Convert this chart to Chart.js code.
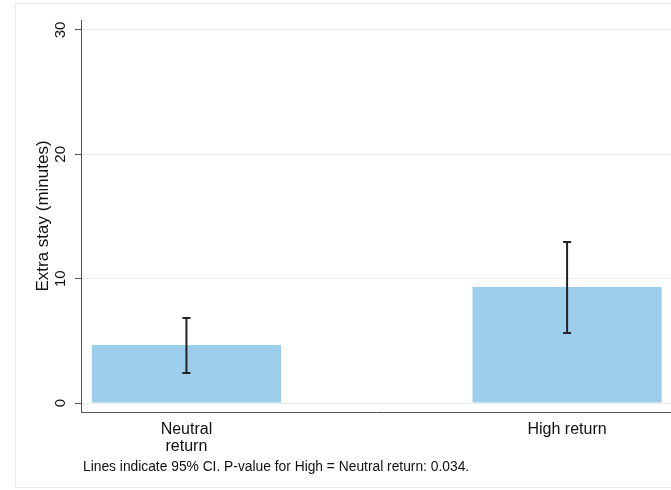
<!DOCTYPE html>
<html>
<head>
<meta charset="utf-8">
<script src="https://cdn.jsdelivr.net/npm/chart.js@4"></script>
<style>
    body { margin: 0; background: #fff; }
    #wrap { position: relative; width: 671px; height: 490px; overflow: hidden; }
    #frame { position: absolute; left: 15px; top: 3px; width: 700px; height: 483px; border: 1px solid #e3ecee; }
    #note { position: absolute; left: 83px; top: 459px; font: 13.8px "Liberation Sans", Arial, sans-serif; color: #111; white-space: nowrap; }
    canvas { position: absolute; left: 0; top: 0; }
</style>
</head>
<body>
<div id="wrap">
    <div id="frame"></div>
    <canvas id="stayChart" width="671" height="490"></canvas>
    <div id="note">Lines indicate 95% CI. P-value for High = Neutral return: 0.034.</div>
</div>
<script>
const xPos = [0, 1];
const xLabels = [["Neutral", "return"], "High return"];
const meanStay = [4.67, 9.33];
const ciLow = [2.42, 5.63];
const ciHigh = [6.84, 12.95];
const yTicks = [0, 10, 20, 30];

const fontFamily = '"Liberation Sans", Arial, sans-serif';

// error bars drawn from the CI arrays through the chart scales
const errorBars = {
    id: "errorBars",
    afterDatasetsDraw(chart) {
        const ctx = chart.ctx;
        const xs = chart.scales.x;
        const ys = chart.scales.y;
        ctx.save();
        ctx.strokeStyle = "#222";
        ctx.lineWidth = 2;
        xPos.forEach((v, i) => {
            const x = xs.getPixelForValue(v);
            const lo = ys.getPixelForValue(ciLow[i]);
            const hi = ys.getPixelForValue(ciHigh[i]);
            ctx.beginPath();
            ctx.moveTo(x, lo);
            ctx.lineTo(x, hi);
            ctx.moveTo(x - 4, lo);
            ctx.lineTo(x + 4, lo);
            ctx.moveTo(x - 4, hi);
            ctx.lineTo(x + 4, hi);
            ctx.stroke();
        });
        ctx.restore();
    },
};

const stayData = {
    datasets: [
        {
            data: xPos.map((x, i) => ({ x: x, y: meanStay[i] })),
            backgroundColor: "#9ccdeb",
            borderWidth: 0,
            barPercentage: 1,
            categoryPercentage: 0.497,
        },
    ],
};

const stayConfig = {
    type: "bar",
    data: stayData,
    options: {
        responsive: false,
        animation: false,
        layout: {
            padding: { left: 0, right: 0, top: 20, bottom: 18 },
        },
        scales: {
            x: {
                type: "linear",
                offset: false,
                min: -0.277,
                max: 1.273,
                afterBuildTicks: (scale) => {
                    scale.ticks = xPos.map((v) => ({ value: v }));
                },
                afterFit: (scale) => {
                    scale.height = 60;
                },
                grid: { display: false, offset: false },
                border: { display: true, color: "#555", width: 1 },
                ticks: {
                    color: "#111",
                    padding: 1,
                    maxRotation: 0,
                    font: { family: fontFamily, size: 16, lineHeight: 1.05 },
                    callback: (value, index) => xLabels[index],
                },
            },
            y: {
                min: -0.72,
                max: 30.8,
                afterBuildTicks: (scale) => {
                    scale.ticks = yTicks.map((v) => ({ value: v }));
                },
                afterFit: (scale) => {
                    scale.width = 81;
                },
                grid: {
                    color: "#e6eef0",
                    tickColor: "#555",
                    tickLength: 6,
                },
                border: { display: true, color: "#555", width: 1 },
                ticks: {
                    color: "#111",
                    minRotation: 90,
                    maxRotation: 90,
                    crossAlign: "center",
                    padding: 6,
                    font: { family: fontFamily, size: 15 },
                },
                title: {
                    display: true,
                    text: "Extra stay (minutes)",
                    color: "#111",
                    padding: { top: 33, bottom: 0 },
                    font: { family: fontFamily, size: 17 },
                },
            },
        },
        plugins: {
            legend: { display: false },
            tooltip: { enabled: false },
        },
    },
    plugins: [errorBars],
};

let stayChart = new Chart(document.getElementById("stayChart"), stayConfig);
</script>
</body>
</html>
